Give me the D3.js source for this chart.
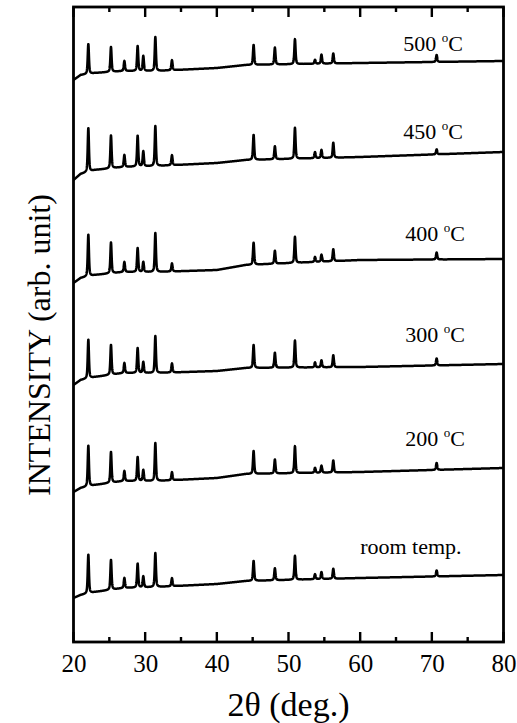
<!DOCTYPE html>
<html>
<head>
<meta charset="utf-8">
<script src="https://cdn.jsdelivr.net/npm/d3@7"></script>
<style>
  body { margin: 0; background: #fff; }
  svg { display: block; font-family: "Liberation Serif", "DejaVu Serif", serif; }
</style>
</head>
<body>
<svg width="517" height="723"></svg>
<script>
// DATA (intensity in arb. units)

var traceNames = ["500 °C", "450 °C", "400 °C", "300 °C", "200 °C", "room temp."];

// reflection positions, 2theta (deg.)
var peakAngles = [22.07, 25.23, 27.1, 28.95, 29.74, 31.42, 33.74, 45.13, 48.1, 50.9, 53.7, 54.6, 56.25, 70.67];

// peak heights above background, one row per trace
var peakHeights = [
  [30, 25, 10, 25, 15, 34, 10, 20, 17, 25, 4, 9, 10, 7],
  [44, 33, 12, 31, 15, 40, 10, 25, 13, 31, 6, 8, 15, 5],
  [42, 31, 10, 24, 10, 39, 8, 22, 13, 26, 5, 7, 12, 7],
  [39, 30, 10, 25, 11, 37, 9, 23, 15, 27, 5, 7, 12, 7],
  [41, 31, 10, 24, 11, 38, 8, 23, 14, 27, 5, 7, 12, 7],
  [39, 30, 10, 24, 11, 34, 8, 20, 12, 24, 5, 7, 10, 6]
];

// background level of each trace at these angles
var bgAngles = [20, 21, 23, 27, 31.5, 40, 44, 60, 80];
var bgLevels = [
  [562, 567, 569, 571, 571, 574, 577, 579, 581],
  [462, 468, 472, 475, 476, 479, 482, 485, 490],
  [359, 364, 367, 370, 370, 372, 377, 382, 383],
  [257, 262, 265, 269, 269, 271, 274, 275, 278],
  [150, 154, 157, 161, 161, 164, 168, 170, 174],
  [44, 47, 50, 54, 55, 58, 61, 64, 67]
];

var xTicks = [20, 30, 40, 50, 60, 70, 80];
var xMinorTicks = [25, 35, 45, 55, 65, 75];

// SETUP

var svg = d3.select("svg"),
    frame = { left: 73.5, right: 503.5, top: 7, bottom: 642 };

var x = d3.scaleLinear().domain([20, 80]).range([frame.left, frame.right]),
    y = d3.scaleLinear().domain([0, 635]).range([frame.bottom, frame.top]);

var hwhm = 0.1;

function profile(i) {
  var bg = d3.scaleLinear().domain(bgAngles).range(bgLevels[i]);
  var pts = [];
  for (var k = 0; k <= 3000; k++) {
    var t = 20 + k * 0.02, v = bg(t);
    for (var p = 0; p < peakAngles.length; p++) {
      var d = (t - peakAngles[p]) / hwhm;
      // half gaussian, half lorentzian
      v += peakHeights[i][p] * (0.5 * Math.exp(-0.693 * d * d) + 0.5 / (1 + d * d));
    }
    pts.push([t, v]);
  }
  return pts;
}

// TRACES

var line = d3.line()
    .x(function (d) { return x(d[0]); })
    .y(function (d) { return y(d[1]); });

svg.append("g").selectAll("path")
    .data(traceNames.map(function (n, i) { return profile(i); }))
    .enter().append("path")
    .attr("d", line)
    .attr("fill", "none")
    .attr("stroke", "#000")
    .attr("stroke-width", 2.5)
    .attr("stroke-linejoin", "round");

// trace labels
var labelAt = [[66, 591], [66, 503], [66.3, 401], [66.3, 300], [66.3, 196], [60, 88]];

var labels = svg.append("g")
    .selectAll("text")
    .data(traceNames)
    .enter().append("text")
    .attr("font-size", 22)
    .attr("x", function (d, i) { return x(labelAt[i][0]); })
    .attr("y", function (d, i) { return y(labelAt[i][1]); });

labels.each(function (d) {
  var t = d3.select(this);
  if (d.indexOf("°") < 0) { t.text(d); return; }
  var parts = d.split("°");
  t.append("tspan").text(parts[0]);
  t.append("tspan").attr("font-size", 13).attr("dy", -9).text("o");
  t.append("tspan").attr("dy", 9).text(parts[1]);
});

// AXES

var gBottom = svg.append("g").attr("transform", "translate(0," + frame.bottom + ")")
    .call(d3.axisBottom(x).tickValues(xTicks).tickSize(0).tickPadding(12).tickFormat(d3.format("d")));

svg.selectAll(".domain").remove();
svg.selectAll(".tick text")
    .attr("font-family", "Liberation Serif, serif")
    .attr("font-size", 25)
    .attr("fill", "#000");

// inward ticks on top and bottom edges
var tickMarks = xTicks.map(function (v) { return { v: v, len: 10 }; })
    .concat(xMinorTicks.map(function (v) { return { v: v, len: 5 }; }));

[[frame.bottom, -1], [frame.top, 1]].forEach(function (edge) {
  svg.append("g").selectAll("rect")
    .data(tickMarks)
    .enter().append("rect")
    .attr("x", function (d) { return x(d.v) - 1.2; })
    .attr("width", 2.4)
    .attr("y", function (d) { return edge[1] < 0 ? edge[0] - d.len : edge[0]; })
    .attr("height", function (d) { return d.len; })
    .attr("fill", "#000");
});

svg.append("rect")
    .attr("x", frame.left)
    .attr("y", frame.top)
    .attr("width", frame.right - frame.left)
    .attr("height", frame.bottom - frame.top)
    .attr("fill", "none")
    .attr("stroke", "#000")
    .attr("stroke-width", 2.8);

// axis titles
svg.append("text")
    .attr("x", (frame.left + frame.right) / 2)
    .attr("y", 716)
    .attr("text-anchor", "middle")
    .attr("font-size", 34)
    .text("2θ (deg.)");

svg.append("text")
    .attr("transform", "translate(50,345) rotate(-90)")
    .attr("text-anchor", "middle")
    .attr("font-size", 32)
    .text("INTENSITY (arb. unit)");
</script>
</body>
</html>
